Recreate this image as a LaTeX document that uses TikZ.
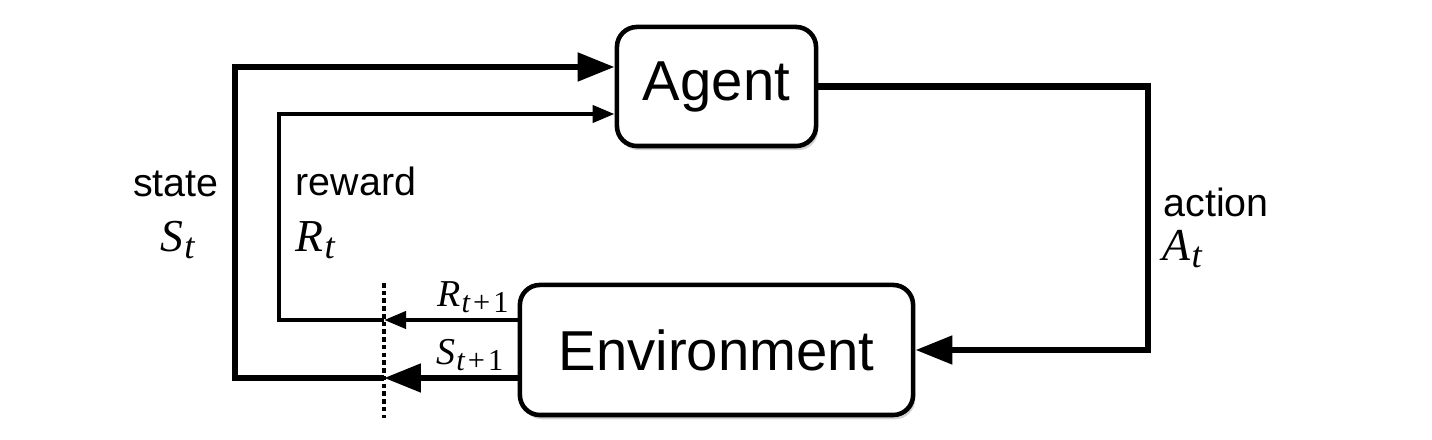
\documentclass[tikz,border=0pt]{standalone}
\usepackage{amsmath}
\usepackage{fontspec}
\setmainfont{Liberation Sans}
\newfontfamily\tms{Liberation Serif}
\newcommand{\mvar}[2]{{\tms\itshape #1}\kern0.02em\raisebox{-0.14em}{\scalebox{0.8}{\tms\itshape #2}}}
\usepackage{tikz}
\usetikzlibrary{arrows.meta}
\usetikzlibrary{shadows}

\begin{document}
\begin{tikzpicture}
	[x=0.01cm, y=-0.01cm,
	main/.style = {draw, rounded corners=0.2cm, line width=1.3pt, fill=white, font=\fontsize{16}{19}\selectfont, drop shadow={shadow xshift=0.6pt, shadow yshift=-1.2pt, opacity=0.35}},
	big/.style = {line width=1.85pt, -{Triangle[length=10.5pt, width=7.8pt]}},
	small/.style = {line width=1.3pt, -{Triangle[length=6.3pt, width=4.8pt]}},
	cutline/.style = {line width=1.1pt, dash pattern=on 1.3pt off 0.9pt},
	lbl/.style = {font=\fontsize{11.2}{13}\selectfont, inner sep=0pt},
	sym/.style = {font=\fontsize{13}{15}\selectfont, inner sep=0pt},
	sub/.style = {font=\fontsize{10.8}{13}\selectfont, inner sep=0pt}]
	\useasboundingbox (0,0) rectangle (1432,440);
	\node[main, minimum width=1.99cm, minimum height=1.19cm] (agent) at (716.5,86.5) {Agent};
	\node[main, minimum width=3.93cm, minimum height=1.30cm] (env) at (716.5,350) {Environment};
	\coordinate (acorner) at (1148,86.5);
	\coordinate (scut) at (384,378);
	\coordinate (sleft) at (235,378);
	\coordinate (stop) at (235,67);
	\coordinate (rcut) at (384,320);
	\coordinate (rleft) at (279,320);
	\coordinate (rtop) at (279,114);
	\coordinate (ctop) at (384,283);
	\coordinate (cbot) at (384,418);
	\draw[big] (agent.east) -- (acorner) |- (env.east);
	\draw[big] (env.west |- scut) -- (scut);
	\draw[big] (scut) -- (sleft) -- (stop) -- (agent.west |- stop);
	\draw[small] (env.west |- rcut) -- (rcut);
	\draw[small] (rcut) -- (rleft) -- (rtop) -- (agent.west |- rtop);
	\draw[cutline] (ctop) -- (cbot);
	\node[lbl, anchor=base] (state) at (176,197) {state};
	\node[sym, anchor=base west] (st) at (160,252) {\mvar{S}{t}};
	\node[lbl, anchor=base west] (reward) at (295,196) {reward};
	\node[sym, anchor=base west] (rt) at (295,252) {\mvar{R}{t}};
	\node[lbl, anchor=base west] (action) at (1163,217) {action};
	\node[sym, anchor=base west] (at) at (1162,261) {\mvar{A}{t}};
	\node[sub, anchor=base west] (rt1) at (437,307) {\mvar{R}{t\upshape\kern0.1em+\kern0.1em1}};
	\node[sub, anchor=base west] (st1) at (436,365) {\mvar{S}{t\upshape\kern0.1em+\kern0.1em1}};
\end{tikzpicture}
\end{document}
